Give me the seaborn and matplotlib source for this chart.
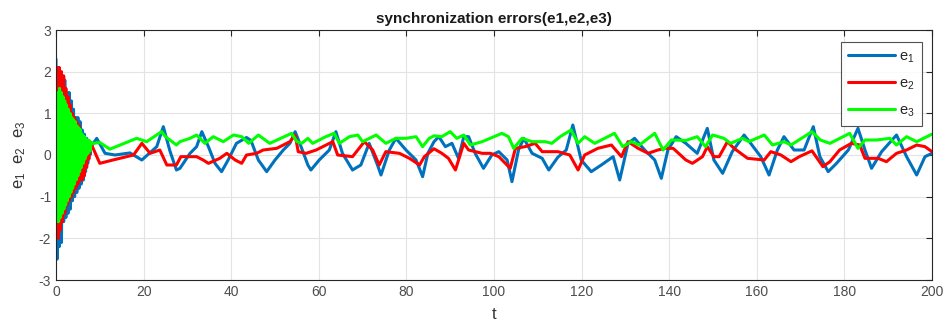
import numpy as np
import pandas as pd
import matplotlib
matplotlib.use("Agg")
import matplotlib.pyplot as plt
import seaborn as sns

# ---- data ----
t_e1 = [0.0, 0.25, 0.5, 0.75, 1.0, 1.25, 1.5, 1.75, 2.0, 2.25, 2.5, 2.75, 3.0, 3.25, 3.5, 3.75,
        4.0, 4.25, 4.5, 4.75, 5.0, 5.25, 5.5, 5.75, 6.0, 6.25, 6.5, 6.75, 7.0, 7.25, 7.5, 7.75, 8.0,
        9.3, 11.2, 13.5, 16.9, 19.6, 23.0, 24.5, 26.0, 27.5, 28.3, 30.6, 32.1, 33.3, 34.8, 36.3,
        37.8, 39.3, 41.2, 43.5, 44.5, 46.2, 48.1, 50.0, 51.9, 53.4, 54.6, 56.1, 57.5, 58.2, 60.1,
        62.4, 63.9, 65.4, 67.7, 69.6, 71.5, 73.4, 74.2, 76.1, 77.6, 79.9, 82.2, 83.7, 84.9, 86.3,
        87.4, 88.9, 90.4, 91.9, 93.1, 94.2, 95.7, 97.6, 99.5, 101.1, 103.0, 104.1, 105.6, 106.8,
        108.7, 111.0, 112.5, 114.6, 116.5, 118.0, 119.9, 122.2, 124.5, 127.2, 128.7, 130.6, 132.1,
        134.4, 136.7, 138.2, 139.7, 141.6, 143.8, 146.4, 148.7, 150.2, 152.2, 154.4, 157.1, 158.6,
        160.9, 162.8, 164.7, 166.2, 168.5, 170.8, 172.9, 174.4, 176.3, 178.2, 180.9, 183.1, 184.7,
        186.2, 188.5, 191.9, 194.2, 196.5, 198.4, 200.0]
e1 = [2.3, -2.5, 2.1, -2.2, 2.0, -2.1, 1.9, -1.6, 1.8, -1.5, 1.5, -1.4, 1.5, -1.3, 1.3, -1.1,
      1.1, -1.0, 0.9, -0.9, 0.9, -0.8, 0.8, -0.7, 0.6, -0.6, 0.5, -0.4, 0.4, -0.2, 0.3, 0.0, 0.2,
      0.4, 0.04, 0.0, 0.05, -0.12, 0.2, 0.68, 0.1, -0.36, -0.32, 0.04, 0.2, 0.56, 0.2, -0.2,
      -0.4, -0.12, 0.28, 0.42, 0.35, -0.12, -0.4, -0.12, 0.12, 0.28, 0.56, 0.16, -0.24, -0.36, -0.12,
      0.12, 0.56, 0.04, -0.36, -0.24, 0.28, -0.24, -0.48, 0.12, 0.4, 0.12, -0.12, -0.52, 0.04, 0.32,
      0.44, 0.2, 0.28, -0.08, 0.44, 0.44, 0.04, -0.32, 0.0, 0.08, -0.12, -0.64, 0.12, 0.4,
      0.04, -0.08, -0.36, -0.05, 0.12, 0.72, -0.12, -0.4, -0.24, -0.04, -0.6, 0.28, 0.4,
      0.12, -0.12, -0.56, 0.12, 0.44, 0.28, 0.04, 0.64, -0.12, -0.44, 0.08, 0.48, 0.28,
      -0.04, -0.48, 0.12, 0.44, 0.12, 0.12, 0.68, -0.04, -0.4, -0.2, 0.12, 0.64, 0.12,
      -0.32, 0.08, 0.48, -0.04, -0.48, -0.04, 0.04]

t_e2 = [0.0, 0.25, 0.5, 0.75, 1.0, 1.25, 1.5, 1.75, 2.0, 2.25, 2.5, 2.75, 3.0, 3.25, 3.5, 3.75,
        4.0, 4.25, 4.5, 4.75, 5.0, 5.25, 5.5, 5.75, 6.0, 6.25, 6.5, 6.75, 7.0, 7.25, 7.5, 7.8,
        10.0, 13.0, 17.7, 19.6, 21.5, 23.7, 25.3, 27.5, 28.5, 32.1, 33.6, 34.8, 37.4, 39.0, 40.9,
        42.4, 43.5, 45.8, 47.3, 50.4, 53.4, 54.6, 55.3, 57.1, 59.4, 63.2, 64.3, 67.7, 70.4, 72.3,
        73.8, 75.3, 78.4, 80.7, 83.0, 84.1, 86.3, 88.1, 89.6, 91.2, 93.1, 94.2, 97.3, 99.2, 101.1,
        103.7, 104.9, 107.1, 109.4, 111.0, 114.6, 117.3, 119.2, 120.7, 123.7, 126.8, 129.1, 130.6,
        132.9, 135.2, 137.4, 139.0, 140.9, 143.8, 145.3, 147.6, 148.7, 150.2, 151.4, 153.3, 154.8,
        157.9, 161.7, 163.2, 165.5, 167.8, 169.7, 172.6, 175.1, 176.7, 178.9, 181.6, 183.5, 184.7,
        187.7, 189.6, 191.9, 194.2, 196.5, 198.4, 200.0]
e2 = [-0.5, 2.1, -2.0, 2.1, -1.8, 2.0, -1.6, 1.9, -1.4, 1.6, -1.2, 1.4, -1.1, 1.2, -1.0, 1.0,
      -0.9, 0.9, -0.8, 0.8, -0.7, 0.7, -0.6, 0.5, -0.6, 0.4, -0.5, 0.3, -0.3, 0.3, -0.1, 0.32,
      -0.2, -0.12, 0.0, 0.28, 0.04, 0.12, -0.24, -0.24, -0.04, -0.04, -0.12, -0.2, -0.08, 0.04, -0.12,
      -0.2, 0.0, 0.04, 0.12, 0.16, 0.32, 0.48, 0.08, 0.04, 0.12, 0.32, 0.0, -0.04, 0.32, 0.12,
      -0.24, 0.08, 0.04, -0.08, -0.24, -0.04, 0.15, 0.04, -0.08, -0.36, 0.28, 0.12, 0.04, 0.04, -0.04,
      -0.32, 0.16, 0.2, 0.28, 0.08, 0.08, 0.0, -0.36, 0.0, 0.16, 0.24, -0.04, 0.32,
      0.16, 0.04, 0.12, 0.16, 0.16, -0.12, -0.2, -0.04, 0.2, -0.04, -0.04, 0.32, 0.16,
      -0.08, -0.12, 0.08, 0.0, -0.16, -0.04, 0.1, -0.28, -0.16, 0.12, 0.28, 0.24, -0.08,
      -0.08, -0.16, 0.04, 0.12, 0.24, 0.2, 0.08]

t_e3 = [0.0, 0.2, 0.4, 0.6, 0.8, 1.0, 1.2, 1.4, 1.6, 1.8, 2.0, 2.2, 2.4, 2.6, 2.8, 3.0, 3.2, 3.4,
        3.6, 3.8, 4.0, 4.2, 4.4, 4.6, 4.8, 5.0, 5.2, 5.4, 5.6, 5.8, 6.0, 6.2, 6.4, 6.6, 6.8, 7.0,
        7.2, 7.4, 7.6, 7.8, 8.0, 8.5, 10.0, 12.3, 18.4, 20.7, 24.1, 25.0, 27.5, 28.3, 30.6, 32.1,
        34.0, 35.9, 38.2, 40.5, 42.4, 44.0, 46.2, 48.8, 53.8, 55.0, 56.1, 57.5, 58.6, 61.6, 63.5,
        64.7, 67.0, 68.9, 70.0, 73.1, 75.3, 77.6, 79.9, 82.2, 83.7, 85.2, 86.3, 88.1, 90.0, 91.5,
        93.1, 94.6, 97.3, 101.8, 103.3, 104.5, 106.4, 108.7, 111.7, 113.2, 115.1, 117.6, 119.2,
        120.7, 123.0, 127.5, 129.4, 131.3, 133.2, 136.7, 138.6, 140.5, 143.8, 146.4, 148.3, 149.9,
        152.5, 154.0, 156.7, 158.2, 161.7, 163.6, 166.2, 167.8, 170.8, 172.6, 174.5, 176.7, 181.2,
        183.1, 184.7, 187.3, 190.4, 191.9, 194.2, 196.5, 200.0]
e3 = [1.2, -1.6, 1.5, -1.6, 1.6, -1.5, 1.5, -1.4, 1.4, -1.3, 1.3, -1.2, 1.2, -1.1, 1.1, -1.0, 1.0, -0.9,
      0.9, -0.8, 0.85, -0.7, 0.8, -0.6, 0.7, -0.5, 0.65, -0.4, 0.6, -0.3, 0.5, -0.2, 0.45, -0.1, 0.4, 0.0,
      0.35, 0.05, 0.35, 0.1, 0.3, 0.28, 0.3, 0.14, 0.4, 0.32, 0.56, 0.44, 0.24, 0.32, 0.4, 0.48,
      0.28, 0.44, 0.32, 0.48, 0.44, 0.28, 0.48, 0.28, 0.52, 0.32, 0.28, 0.4, 0.28, 0.44, 0.52,
      0.28, 0.44, 0.48, 0.32, 0.48, 0.28, 0.4, 0.4, 0.44, 0.2, 0.4, 0.46, 0.44, 0.56, 0.4,
      0.48, 0.24, 0.32, 0.52, 0.44, 0.16, 0.4, 0.32, 0.32, 0.28, 0.44, 0.6, 0.28,
      0.44, 0.28, 0.52, 0.2, 0.32, 0.24, 0.52, 0.12, 0.36, 0.35, 0.44, 0.2, 0.48,
      0.4, 0.28, 0.4, 0.32, 0.48, 0.24, 0.32, 0.24, 0.44, 0.56, 0.36, 0.28, 0.52,
      0.16, 0.36, 0.36, 0.4, 0.24, 0.44, 0.32, 0.5]

series_names = ["e1", "e2", "e3"]
legend_labels = ["e$_1$", "e$_2$", "e$_3$"]
x_ticks = [0, 20, 40, 60, 80, 100, 120, 140, 160, 180, 200]
y_ticks = [-3, -2, -1, 0, 1, 2, 3]

df = pd.concat([
    pd.DataFrame({"t": t_e1, "v": e1, "s": "e1"}),
    pd.DataFrame({"t": t_e2, "v": e2, "s": "e2"}),
    pd.DataFrame({"t": t_e3, "v": e3, "s": "e3"}),
], ignore_index=True)

sns.set_style("white")
plt.rcParams["font.family"] = ["Liberation Sans", "DejaVu Sans"]
plt.rcParams["mathtext.fontset"] = "custom"
plt.rcParams["mathtext.rm"] = "Liberation Sans"
plt.rcParams["mathtext.it"] = "Liberation Sans"
plt.rcParams["axes.unicode_minus"] = False

fig = plt.figure(figsize=(9.52, 3.32), dpi=100)
ax = fig.add_axes([56/952, 1-280/332, (932-56)/952, (280-30)/332])

palette = {"e1": "#0072BD", "e2": "#FF0000", "e3": "#00FF00"}
sns.lineplot(data=df, x="t", y="v", hue="s", palette=palette, estimator=None,
             sort=False, linewidth=2.2, ax=ax)

ax.set_xlim(0, 200)
ax.set_ylim(-3, 3)
ax.set_xticks(x_ticks)
ax.set_yticks(y_ticks)
ax.grid(True, color="#e3e3e3", linewidth=0.8)
ax.set_axisbelow(True)
for sp in ax.spines.values():
    sp.set_visible(True)
    sp.set_color("#262626")
    sp.set_linewidth(0.8)
ax.tick_params(direction="in", top=True, right=True, length=4, width=0.8,
               labelsize=10, colors="#262626", labelcolor="#4d4d4d")
ax.set_title("synchronization errors(e1,e2,e3)", fontsize=11, fontweight="bold",
             color="#1a1a1a", pad=5)
ax.set_xlabel("t", fontsize=12, color="#333333", labelpad=6)
ax.set_ylabel("e$_1$  e$_2$  e$_3$", fontsize=12, color="#333333", labelpad=8)

handles, _ = ax.get_legend_handles_labels()
leg = ax.legend(handles, legend_labels, loc="upper right",
                bbox_to_anchor=((922-56)/876, (280-42)/250), borderaxespad=0,
                fontsize=10.5, frameon=True, fancybox=False, edgecolor="#262626",
                handlelength=3.2, borderpad=0.5, labelspacing=0.8, handletextpad=0.3)
leg.get_frame().set_linewidth(0.8)

fig.savefig("out.png", dpi=100)
